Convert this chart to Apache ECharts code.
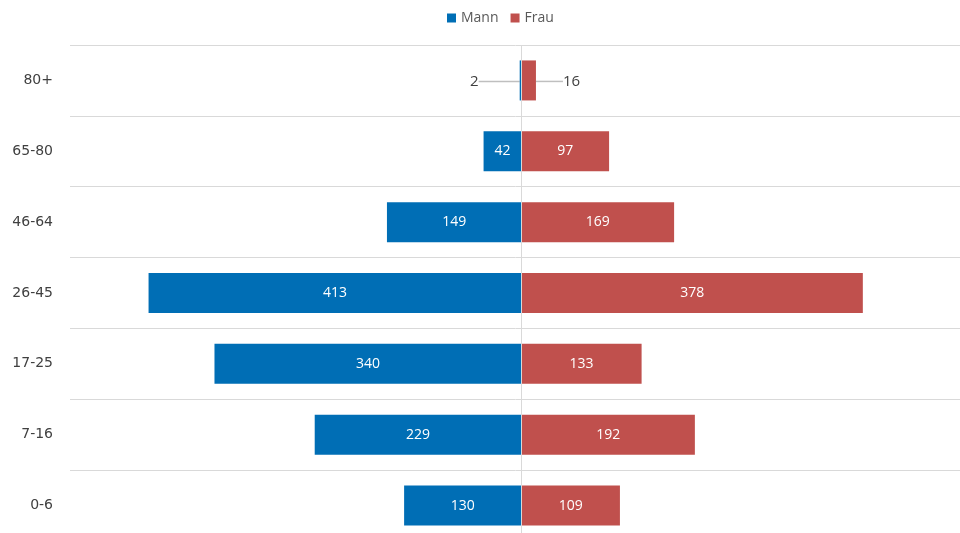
<!DOCTYPE html>
<html><head><meta charset="utf-8">
<script src="https://cdn.jsdelivr.net/npm/echarts@6/dist/echarts.min.js"></script>
<style>html,body{margin:0;padding:0;background:#fff}#c{width:960px;height:533px}</style>
</head><body><div id="c"></div>
<script>
const categories = ['0-6','7-16','17-25','26-45','46-64','65-80','80+'];
const mannValues = [130,229,340,413,149,42,2];
const frauValues = [109,192,133,378,169,97,16];
const seriesNames = ['Mann','Frau'];

const chart = echarts.init(document.getElementById('c'));
const blue = '#006EB5', red = '#C0504D';
const outsideIdx = 6;

function mkData(vals, sign, side) {
  return vals.map((v, i) => {
    const d = { value: sign * v };
    if (i === outsideIdx) {
      d.label = { position: side, color: '#404040', fontSize: 15, distance: 5 };
      d.labelLine = { show: true, lineStyle: { color: '#BFBFBF', width: 1.5 } };
    }
    return d;
  });
}

chart.setOption({
  animation: false,
  legend: {
    top: 6, left: 442, itemWidth: 9, itemHeight: 9, itemGap: 12,
    icon: 'rect',
    textStyle: { color: '#595959', fontSize: 14, fontFamily: 'Open Sans' },
    data: seriesNames
  },
  grid: { left: 70, top: 45, width: 903, height: 496, containLabel: false, outerBoundsMode: 'none' },
  xAxis: {
    type: 'value', min: -500, max: 500, show: false
  },
  yAxis: {
    type: 'category', data: categories,
    axisLine: { show: false }, axisTick: { show: false },
    axisLabel: { color: '#404040', fontSize: 14, fontFamily: 'DejaVu Sans', margin: 17 },
    splitLine: { show: true, lineStyle: { color: '#D9D9D9', width: 1 } }
  },
  series: [
    {
      name: seriesNames[0], type: 'bar', stack: 'a', barWidth: 40,
      itemStyle: { color: blue },
      label: { show: true, position: 'inside', color: '#fff', fontSize: 14, fontFamily: 'Open Sans',
        formatter: p => Math.abs(p.value) },
      labelLayout: p => p.dataIndex === outsideIdx ? { dx: -36, dy: 1 } : {},
      data: mkData(mannValues, -1, 'left'),
      markLine: {
        silent: true, symbol: 'none', label: { show: false },
        lineStyle: { color: '#D9D9D9', type: 'solid', width: 1 },
        data: [{ xAxis: 0 }]
      }
    },
    {
      name: seriesNames[1], type: 'bar', stack: 'a', barWidth: 40,
      itemStyle: { color: red },
      label: { show: true, position: 'inside', color: '#fff', fontSize: 14, fontFamily: 'Open Sans' },
      labelLayout: p => p.dataIndex === outsideIdx ? { dx: 22, dy: 1 } : {},
      data: mkData(frauValues, 1, 'right')
    }
  ]
});
</script></body></html>
